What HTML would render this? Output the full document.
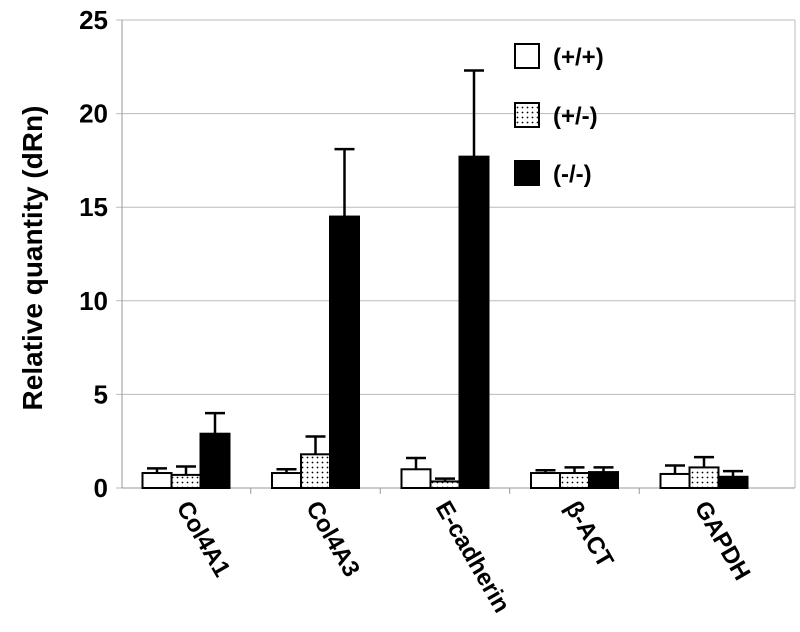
<!DOCTYPE html>
<html><head><meta charset="utf-8"><style>body{margin:0;background:#fff}svg{display:block;font-family:"Liberation Sans",Arial,sans-serif}</style></head>
<body>
<svg id="c" width="800" height="632">
<defs><pattern id="dots" width="5" height="5" patternUnits="userSpaceOnUse"><rect width="5" height="5" fill="#fff"/><circle cx="2.5" cy="2.5" r="0.9" fill="#000"/></pattern></defs>
<g id="grid"></g><g id="bars"></g>
<text transform="translate(42,258) rotate(-90)" text-anchor="middle" font-size="28" font-weight="bold">Relative quantity (dRn)</text>
<g font-size="24" font-weight="bold">
<rect x="515" y="44" width="24" height="24" fill="#fff" stroke="#000" stroke-width="2"/><text x="553" y="65">(+/+)</text>
<rect x="515" y="103" width="24" height="24" fill="url(#dots)" stroke="#000" stroke-width="2"/><text x="553" y="124">(+/-)</text>
<rect x="515" y="161" width="24" height="24" fill="#000" stroke="#000" stroke-width="2"/><text x="553" y="182">(-/-)</text>
</g>
</svg>
<script>
const categories=["Col4A1","Col4A3","E-cadherin","β-ACT","GAPDH"];
const wt=[0.8,0.8,1.0,0.8,0.75];
const het=[0.7,1.8,0.35,0.8,1.1];
const ko=[2.9,14.5,17.7,0.85,0.6];
const wtErr=[1.05,1.0,1.6,0.95,1.2];
const hetErr=[1.15,2.75,0.5,1.1,1.65];
const koErr=[4.0,18.1,22.3,1.1,0.9];
const ticks=[0,5,10,15,20,25];
const NS="http://www.w3.org/2000/svg";
const L=122,R=795,T=20,B=488;
const y=v=>B-(v/25)*(B-T);
const band=129.5;
const svg=document.getElementById('c'),grid=document.getElementById('grid'),bars=document.getElementById('bars');
function mk(p,tag,a){const e=document.createElementNS(NS,tag);for(const k in a)e.setAttribute(k,a[k]);p.appendChild(e);return e;}
ticks.forEach(t=>{
 const l=mk(grid,'line',{x1:L-6,x2:R,y1:y(t),y2:y(t),stroke:'#bbb','stroke-width':1});
 
 
 const tx=mk(grid,'text',{x:L-14,y:y(t)+9,'text-anchor':'end','font-size':26,'font-weight':'bold'});
 tx.textContent=t;
 
 
});
mk(grid,'line',{x1:L,x2:L,y1:T,y2:B,stroke:'#999','stroke-width':1});
mk(grid,'line',{x1:R,x2:R,y1:T,y2:B,stroke:'#bbb','stroke-width':1});
mk(grid,'line',{x1:L,x2:R,y1:B,y2:B,stroke:'#999','stroke-width':1});
const series=[[wt,wtErr,'#fff'],[het,hetErr,'url(#dots)'],[ko,koErr,'#000']];
const bw=29;
categories.forEach((c,i)=>{
 const cx=L+64+band*i;
 if(i>0){mk(grid,'line',{x1:cx-band/2,x2:cx-band/2,y1:B,y2:B+6,stroke:'#999'});}
 series.forEach((s,j)=>{
  const x=cx-1.5*bw+j*bw;
  const e1=mk(bars,'line',{x1:x+bw/2,x2:x+bw/2,y1:y(s[0][i]),y2:y(s[1][i]),stroke:'#000','stroke-width':2.5});
  
  
  mk(bars,'line',{x1:x+bw/2-10,x2:x+bw/2+10,y1:y(s[1][i]),y2:y(s[1][i]),stroke:'#000','stroke-width':2.5});
  const r=mk(bars,'rect',{x:x,y:y(s[0][i]),width:bw,height:B-y(s[0][i]),fill:s[2],stroke:'#000','stroke-width':2});
  
  
 });
 const t=mk(svg,'text',{transform:`translate(${cx-10},${B+19}) rotate(60)`,'font-size':24,'font-weight':'bold'});
 t.textContent=c;
 
 
});
</script>
</body></html>
